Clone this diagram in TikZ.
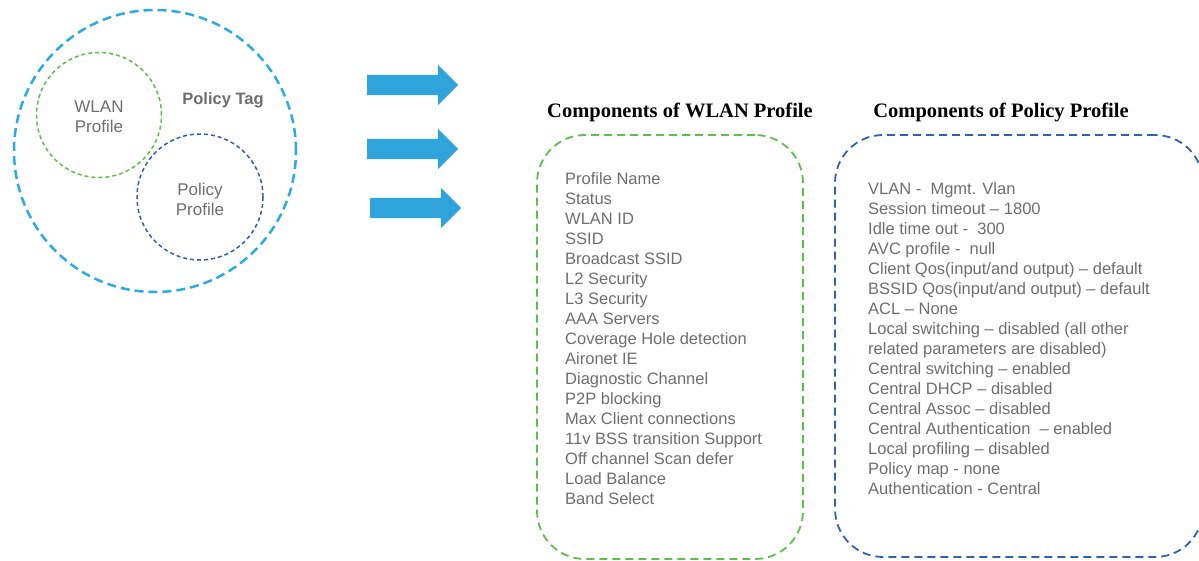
\documentclass[tikz,border=0pt]{standalone}
\usepackage{fontspec}
\setmainfont{Liberation Sans}
\newfontfamily\headfont{Liberation Serif}
\usetikzlibrary{shapes.arrows}
\definecolor{tagblue}{HTML}{2AABE2}
\definecolor{wlangreen}{HTML}{5CBF4B}
\definecolor{policyblue}{HTML}{2F62AD}
\definecolor{arrowblue}{HTML}{2EA4DB}
\definecolor{txtgray}{HTML}{6E6E6E}

\begin{document}
\begin{tikzpicture}[x=1pt, y=-1pt,
                    ring/.style={circle, draw, inner sep=0pt},
                    bigring/.style={ring, draw=tagblue, line width=2.5pt, dash pattern=on 9pt off 5pt},
                    smallring/.style={ring, line width=1.5pt, dash pattern=on 4pt off 3pt},
                    panel/.style={rectangle, draw, rounded corners=48pt, line width=1.8pt, dash pattern=on 8pt off 5pt},
                    fwd/.style={single arrow, fill=arrowblue, draw=none, inner sep=0pt, text height=20pt, text depth=0pt,
                                minimum height=91pt, single arrow head extend=10pt},
                    heading/.style={font=\headfont\bfseries\fontsize{20.5}{24}\selectfont, anchor=base},
                    ringtext/.style={font=\fontsize{17}{20}\selectfont, text=txtgray, align=center},
                    items/.style={font=\fontsize{16.5}{20}\selectfont, text=txtgray, align=left, anchor=north west, inner sep=0pt}]
  \path[use as bounding box] (0,0) rectangle (1199,560);
  \clip (0,0) rectangle (1199,560);

  % policy tag with its two profiles
  \node[bigring, minimum size=282pt] (tag) at (155,151) {};
  \node[smallring, draw=wlangreen, minimum size=125pt] (wlanring) at (99,115) {};
  \node[smallring, draw=policyblue, minimum size=126pt] (policyring) at (200,197) {};
  \node[font=\bfseries\fontsize{16.5}{20}\selectfont, text=txtgray] (tagname) at (223,100) {Policy Tag};
  \node[ringtext] (wlanname) at ([yshift=-2pt]wlanring) {WLAN\\Profile};
  \node[ringtext] (policyname) at ([yshift=-2pt]policyring) {Policy\\Profile};

  % arrows
  \node[fwd] (arr1) at (407.5,85) {};
  \node[fwd] (arr2) at (407.5,149) {};
  \node[fwd] (arr3) at (410.5,208) {};

  % WLAN profile
  \node[heading] (wlanhead) at (680,117) {Components of WLAN Profile};
  \node[panel, draw=wlangreen, minimum width=266pt, minimum height=424pt] (wlanbox) at (670,347) {};
  \node[items] (wlanlist) at (565,172) {Profile Name\\Status\\WLAN ID\\SSID\\Broadcast SSID\\L2 Security\\L3 Security\\
    AAA Servers\\Coverage Hole detection\\Aironet IE\\Diagnostic Channel\\P2P blocking\\Max Client connections\\
    11v BSS transition Support\\Off channel Scan defer\\Load Balance\\Band Select};

  % policy profile
  \node[heading] (policyhead) at (1001,117) {Components of Policy Profile};
  \node[panel, draw=policyblue, minimum width=368pt, minimum height=422pt] (policybox) at (1019,346) {};
  \node[items] (policylist) at (868,182) {VLAN -\ \ Mgmt. Vlan\\Session timeout -- 1800\\Idle time out -\ \ 300\\
    AVC profile -\ \ null\\Client Qos(input/and output) -- default\\BSSID Qos(input/and output) -- default\\
    ACL -- None\\Local switching -- disabled (all other\\related parameters are disabled)\\
    Central switching -- enabled\\Central DHCP -- disabled\\Central Assoc -- disabled\\
    Central Authentication\ \ -- enabled\\Local profiling -- disabled\\Policy map - none\\Authentication - Central};
\end{tikzpicture}
\end{document}
